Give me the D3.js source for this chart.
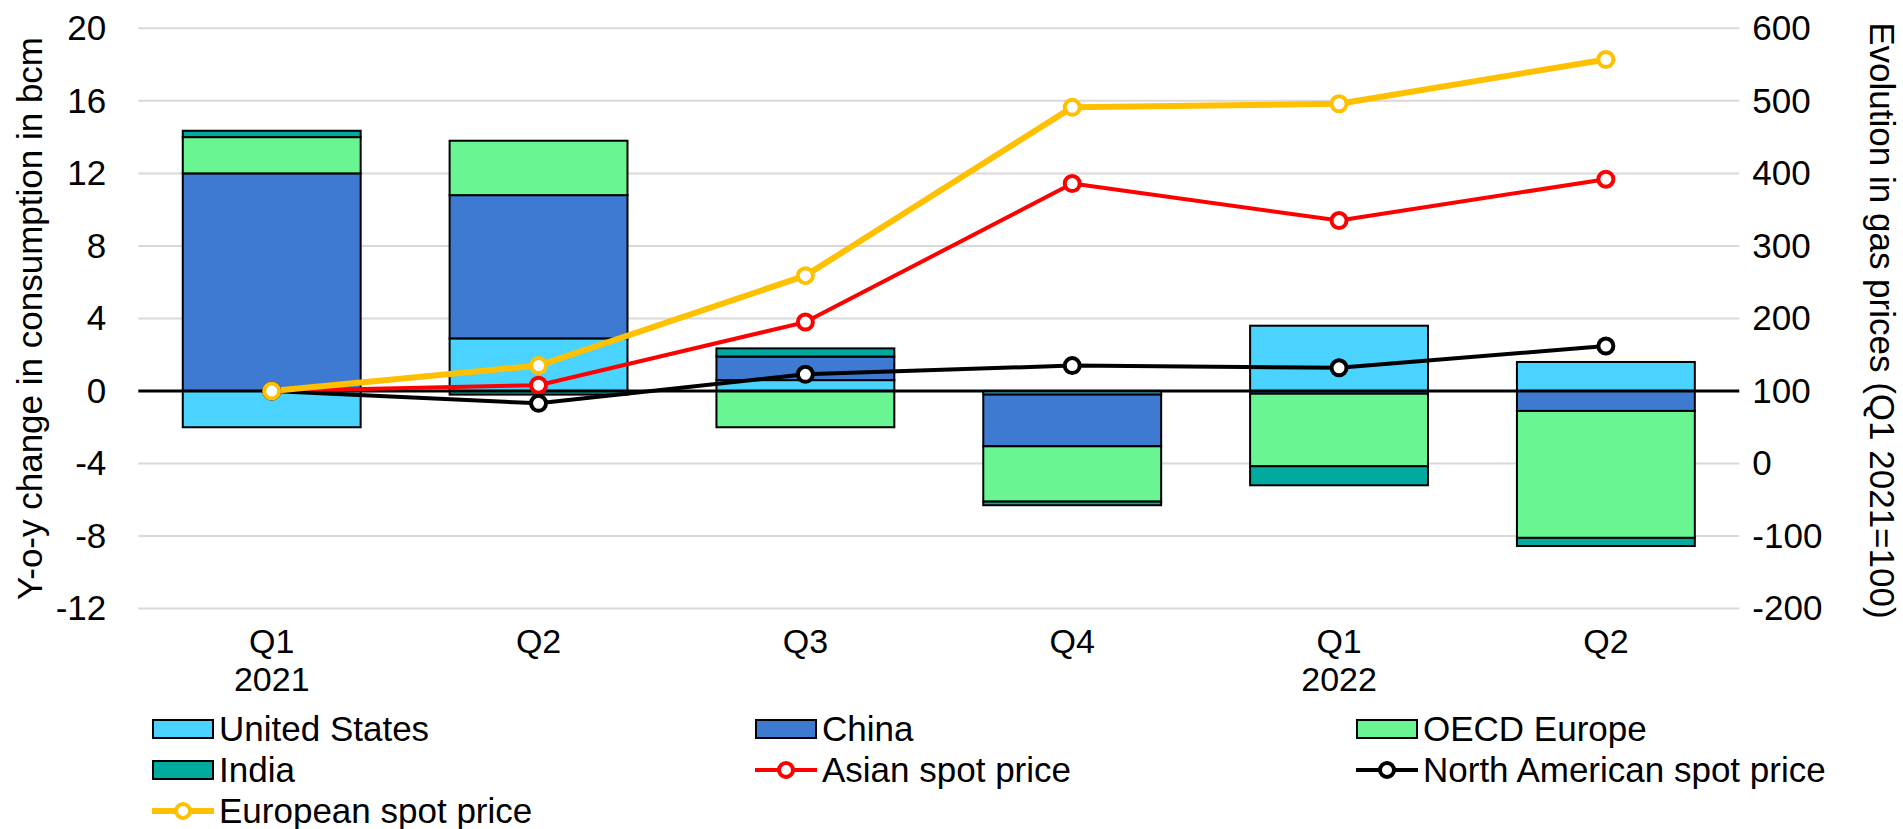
<!DOCTYPE html>
<html>
<head>
<meta charset="utf-8">
<script src="https://cdn.jsdelivr.net/npm/d3@7"></script>
<style>
  html, body { margin: 0; padding: 0; background: #ffffff; }
  svg { display: block; }
  text { font-family: "Liberation Sans", Arial, sans-serif; fill: #000; }
</style>
</head>
<body>
<svg id="chart" width="1903" height="829"></svg>
<script>
// ---------- data ----------
const quarters = ["Q1", "Q2", "Q3", "Q4", "Q1", "Q2"];
const years = ["2021", "", "", "", "2022", ""];
const unitedStates = [-2.0, 2.9, 0.6, -0.2, 3.6, 1.6];
const china = [12.0, 7.9, 1.3, -2.85, -0.15, -1.1];
const oecdEurope = [2.0, 3.0, -2.0, -3.05, -4.0, -7.0];
const india = [0.35, -0.2, 0.45, -0.2, -1.05, -0.45];
const asianSpot = [100, 108, 195, 386, 335, 392];
const northAmericanSpot = [100, 83, 123, 135, 132, 162];
const europeanSpot = [100, 135, 259, 491, 496, 557];
const leftTicks = [-12, -8, -4, 0, 4, 8, 12, 16, 20];
const rightTicks = [-200, -100, 0, 100, 200, 300, 400, 500, 600];

const barSeries = [
  { name: "United States", values: unitedStates, color: "#4AD3FF" },
  { name: "China", values: china, color: "#3E7AD2" },
  { name: "OECD Europe", values: oecdEurope, color: "#6AF593" },
  { name: "India", values: india, color: "#00AA9E" }
];
const lineSeries = [
  { name: "Asian spot price", values: asianSpot, color: "#FF0000", width: 4 },
  { name: "North American spot price", values: northAmericanSpot, color: "#000000", width: 4 },
  { name: "European spot price", values: europeanSpot, color: "#FFC000", width: 6 }
];

// ---------- layout ----------
const plot = { left: 138.3, right: 1739.3, top: 28.3, bottom: 608.6 };
const FS = 35;
const fmt = d => String(d).replace("\u2212", "-");

const svg = d3.select("#chart");
const idx = d3.range(quarters.length);

const x = d3.scaleBand().domain(idx).range([plot.left, plot.right])
  .paddingInner(1 / 3).paddingOuter(1 / 6);
const yL = d3.scaleLinear().domain([-12, 20]).range([plot.bottom, plot.top]);
const yR = d3.scaleLinear().domain([-200, 600]).range([plot.bottom, plot.top]);
const cx = i => x(i) + x.bandwidth() / 2;

// gridlines
svg.append("g").selectAll("line").data(leftTicks.filter(t => t !== 0)).join("line")
  .attr("x1", plot.left).attr("x2", plot.right)
  .attr("y1", d => yL(d)).attr("y2", d => yL(d))
  .attr("stroke", "#D9D9D9").attr("stroke-width", 2);

// stacked bars
const table = idx.map(i => {
  const o = { i };
  barSeries.forEach(s => { o[s.name] = s.values[i]; });
  return o;
});
const stack = d3.stack().keys(barSeries.map(s => s.name)).offset(d3.stackOffsetDiverging);
const stacked = stack(table);

svg.append("g").selectAll("g").data(stacked).join("g")
  .attr("fill", (d, k) => barSeries[k].color)
  .selectAll("rect").data(d => d).join("rect")
  .attr("x", d => x(d.data.i))
  .attr("width", x.bandwidth())
  .attr("y", d => yL(Math.max(d[0], d[1])))
  .attr("height", d => Math.abs(yL(d[0]) - yL(d[1])))
  .attr("stroke", "#000").attr("stroke-width", 2);

// zero line
svg.append("line")
  .attr("x1", plot.left).attr("x2", plot.right)
  .attr("y1", yL(0)).attr("y2", yL(0))
  .attr("stroke", "#000").attr("stroke-width", 3);

// lines
const lineGen = d3.line().x((d, i) => cx(i)).y(d => yR(d));
lineSeries.forEach(s => {
  svg.append("path").datum(s.values)
    .attr("d", lineGen).attr("fill", "none")
    .attr("stroke", s.color).attr("stroke-width", s.width)
    .attr("stroke-linejoin", "round");
});
lineSeries.forEach(s => {
  svg.append("g").selectAll("circle").data(s.values).join("circle")
    .attr("cx", (d, i) => cx(i)).attr("cy", d => yR(d))
    .attr("r", 7.5).attr("fill", "#fff")
    .attr("stroke", s.color).attr("stroke-width", 4);
});

// left axis
const axL = svg.append("g").attr("transform", `translate(${plot.left},0)`)
  .call(d3.axisLeft(yL).tickValues(leftTicks).tickSize(0).tickPadding(32).tickFormat(fmt));
axL.select(".domain").remove();
axL.selectAll("text").attr("font-size", FS).attr("font-family", "Liberation Sans, Arial, sans-serif");

// right axis
const axR = svg.append("g").attr("transform", `translate(${plot.right},0)`)
  .call(d3.axisRight(yR).tickValues(rightTicks).tickSize(0).tickPadding(13).tickFormat(fmt));
axR.select(".domain").remove();
axR.selectAll("text").attr("font-size", FS).attr("font-family", "Liberation Sans, Arial, sans-serif");

// bottom axis (category labels)
const axB = svg.append("g").attr("transform", `translate(0,${plot.bottom})`)
  .call(d3.axisBottom(x).tickSize(0).tickFormat(""));
axB.select(".domain").remove();
axB.selectAll(".tick").each(function (i) {
  const g = d3.select(this);
  g.append("text").attr("text-anchor", "middle").attr("font-size", 34)
    .attr("y", 44).text(quarters[i]);
  if (years[i]) g.append("text").attr("text-anchor", "middle").attr("font-size", 34)
    .attr("y", 82).text(years[i]);
});

// axis titles
svg.append("text")
  .attr("transform", `translate(42,${(plot.top + plot.bottom) / 2}) rotate(-90)`)
  .attr("text-anchor", "middle").attr("font-size", FS)
  .text("Y-o-y change in consumption in bcm");
svg.append("text")
  .attr("transform", `translate(1870,${(plot.top + plot.bottom) / 2 + 2}) rotate(90)`)
  .attr("text-anchor", "middle").attr("font-size", FS)
  .text("Evolution in gas prices (Q1 2021=100)");

// legend
const legendItems = [
  { type: "bar", s: barSeries[0] }, { type: "bar", s: barSeries[1] }, { type: "bar", s: barSeries[2] },
  { type: "bar", s: barSeries[3] }, { type: "line", s: lineSeries[0] }, { type: "line", s: lineSeries[1] },
  { type: "line", s: lineSeries[2] }
];
const colX = [152, 755, 1356];
const rowY = [729, 770, 811];
const lg = svg.append("g");
legendItems.forEach((item, k) => {
  const gx = colX[k % 3], gy = rowY[Math.floor(k / 3)];
  const g = lg.append("g").attr("transform", `translate(${gx},${gy})`);
  if (item.type === "bar") {
    g.append("rect").attr("x", 1).attr("y", -9).attr("width", 60).attr("height", 18)
      .attr("fill", item.s.color).attr("stroke", "#000").attr("stroke-width", 2);
  } else {
    g.append("line").attr("x1", 0).attr("x2", 62).attr("y1", 0).attr("y2", 0)
      .attr("stroke", item.s.color).attr("stroke-width", item.s.width);
    g.append("circle").attr("cx", 31).attr("cy", 0).attr("r", 7)
      .attr("fill", "#fff").attr("stroke", item.s.color).attr("stroke-width", 4);
  }
  g.append("text").attr("x", 67).attr("y", 0).attr("dy", "0.35em")
    .attr("font-size", FS).text(item.s.name);
});
</script>
</body>
</html>
